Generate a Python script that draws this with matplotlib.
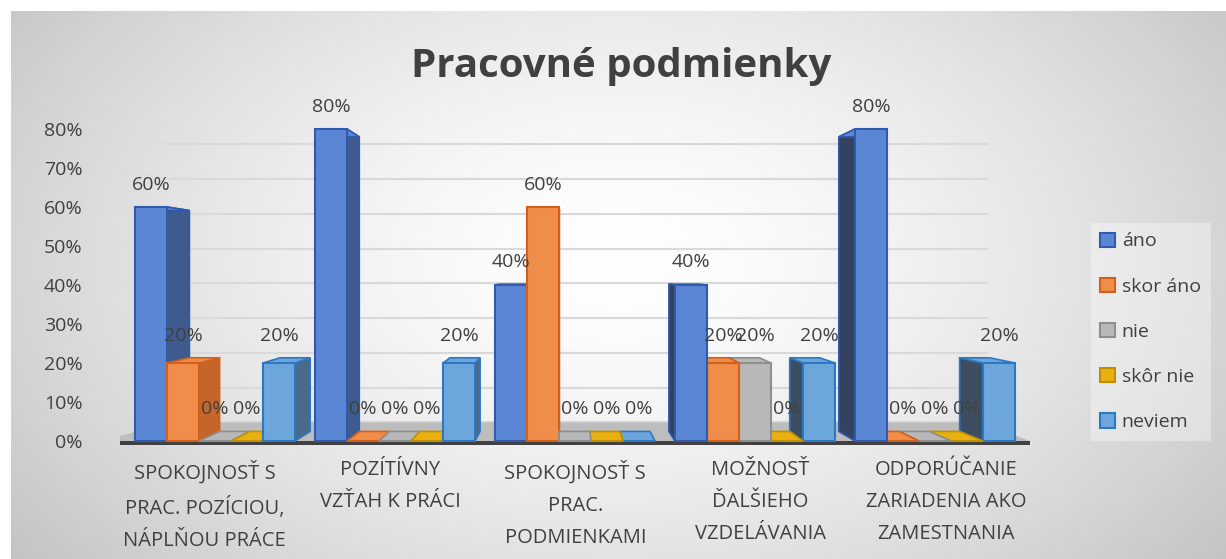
import numpy as np
import matplotlib.pyplot as plt
from matplotlib.patches import Polygon, Patch

plt.rcParams['font.family'] = ['Open Sans', 'DejaVu Sans']

# data
categories = ["SPOKOJNOSŤ S\nPRAC. POZÍCIOU,\nNÁPLŇOU PRÁCE",
              "POZÍTÍVNY\nVZŤAH K PRÁCI",
              "SPOKOJNOSŤ S\nPRAC.\nPODMIENKAMI",
              "MOŽNOSŤ\nĎALŠIEHO\nVZDELÁVANIA",
              "ODPORÚČANIE\nZARIADENIA AKO\nZAMESTNANIA"]
series = ["áno", "skor áno", "nie", "skôr nie", "neviem"]
ano = [60, 80, 40, 40, 80]
skor_ano = [20, 0, 60, 20, 0]
nie = [0, 0, 0, 20, 0]
skor_nie = [0, 0, 0, 0, 0]
neviem = [20, 20, 0, 20, 20]
values = [ano, skor_ano, nie, skor_nie, neviem]
yticks = [0, 10, 20, 30, 40, 50, 60, 70, 80]

face = ["#5A86D3", "#F08D4B", "#B8B8B8", "#E8B010", "#6CA6DC"]
edge = ["#2F5AAE", "#D0601A", "#8E8E8E", "#C09000", "#2E78C2"]
side_r = ["#3F5A8C", "#C4662A", "#999999", "#B88A0A", "#4A6A8C"]
side_l = ["#34425F", "#A9561F", "#7E7E7E", "#9C7608", "#3D4E62"]
txt = "#404040"

fig = plt.figure(figsize=(12.26, 5.59), dpi=100, facecolor="white")

# radial background
bg = fig.add_axes([11/1226, 0, 1 - 11/1226, 1 - 11/559], zorder=-10)
X, Y = np.meshgrid(np.linspace(11, 1226, 300), np.linspace(11, 559, 150))
r = np.sqrt(((X - 620) / 620) ** 2 + ((Y - 260) / 400) ** 2)
g = np.clip(1 - 0.17 * r ** 1.5, 0, 1)
bg.imshow(np.dstack([g, g, g]), aspect="auto", extent=[0, 1, 0, 1], interpolation="bilinear")
bg.axis("off")

# main axes: 0% at y=441px, 3.9px per %, x from 120px to 1030px
y0, y1 = -3, 90
bottom = (559 - (441 + 3 * 3.9)) / 559
top = (559 - (441 - 90 * 3.9)) / 559
ax = fig.add_axes([120/1226, bottom, 910/1226, top - bottom])
ax.set_facecolor("none")
xl, xr = -0.528, 4.528
ax.set_xlim(xl, xr)
ax.set_ylim(y0, y1)
for s in ax.spines.values():
    s.set_visible(False)
ax.set_xticks([])
ax.set_yticks(yticks)
ax.set_yticklabels([f"{t}%" for t in yticks], fontsize=14, color=txt)
ax.tick_params(axis="y", length=0, pad=27)

vpx, vpy = 1.95, 43.8
sw, sb = 0.891, 0.944


def back(x, y, s):
    return vpx + s * (x - vpx), vpy + s * (y - vpy)


# back wall gridlines and left wall lines
for t in yticks:
    bx0, by = back(xl, t, sw)
    bx1, _ = back(xr + 0.05, t, sw)
    ax.plot([bx0, bx1], [by, by], color="#D9D9D9", lw=1.5, zorder=0.5)
    ax.plot([xl - 0.1, bx0], [t + 0.3, by], color="#DCDCDC", lw=1, zorder=0.4)

# floor
fl = [(xl - 0.1, 0), (xr, 0), back(xr, 0, sw), back(xl, 0, sw)]
ax.add_patch(Polygon(fl, closed=True, fc="#BDBDBD", ec="none", zorder=1))
ax.add_patch(Polygon([(xl - 0.1, 0), (xr, 0), (xr, -1.0), (xl - 0.1, -1.0)],
                     closed=True, fc="#404040", ec="none", zorder=1.2))

w = 32 / 180
for j, vals in enumerate(values):
    for i, v in enumerate(vals):
        xc = i + (j - 2) * w
        x0, x1 = xc - w / 2, xc + w / 2
        z = 5 - abs(xc - vpx) / 5
        if xc < vpx:
            xs, sc = x1, side_r[j]
        else:
            xs, sc = x0, side_l[j]
        sd = [(xs, 0), (xs, v), back(xs, v, sb), back(xs, 0, sb)]
        ax.add_patch(Polygon(sd, closed=True, fc=sc, ec=edge[j], lw=1.2, zorder=z))
        tp = [(x0, v), (x1, v), back(x1, v, sb), back(x0, v, sb)]
        ax.add_patch(Polygon(tp, closed=True, fc=face[j], ec=edge[j], lw=1.2, zorder=z + 0.001))
        ax.bar(xc, v, width=w, color=face[j], edgecolor=edge[j], lw=1.5, zorder=z + 0.002)
        ytop = max(v, back(x0, v, sb)[1])
        ax.annotate(f"{v}%", (xc, ytop), xytext=(0, 16), textcoords="offset points",
                    ha="center", va="center", fontsize=14, color=txt, zorder=20)

# category labels
for i, c in enumerate(categories):
    lx = vpx + (i - vpx) * 1.03
    ax.annotate(c, (lx, 0), xytext=(0, -14), textcoords="offset points",
                ha="center", va="top", fontsize=14.5, color=txt, linespacing=1.8,
                annotation_clip=False)

fig.text(0.507, 1 - 66/559, "Pracovné podmienky", ha="center", va="center",
         fontsize=29, fontweight="bold", color=txt)

handles = [Patch(facecolor=face[j], edgecolor=edge[j], lw=1.5) for j in range(5)]
leg = fig.legend(handles, series, loc="upper left", bbox_to_anchor=(1081/1226, 1 - 213/559),
                 fontsize=14, frameon=True, fancybox=False, framealpha=0.35,
                 facecolor="white", edgecolor="none", labelspacing=1.4,
                 handlelength=0.75, handleheight=0.75, handletextpad=0.35,
                 borderpad=0.5, labelcolor=txt)

fig.savefig("out.png", dpi=100)
